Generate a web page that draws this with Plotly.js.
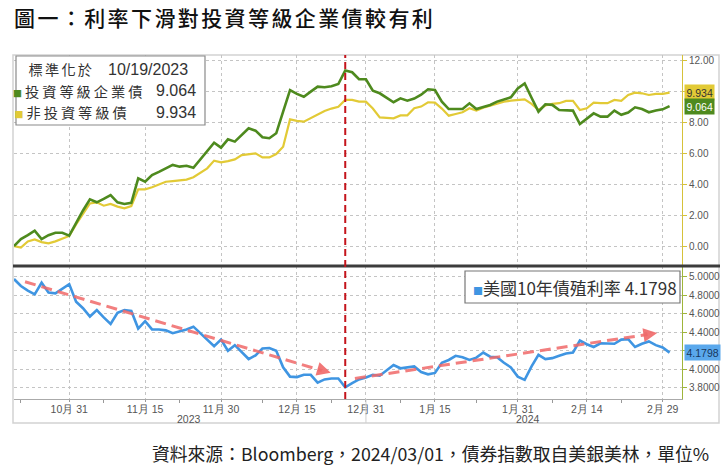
<!DOCTYPE html>
<html><head><meta charset="utf-8">
<script src="https://cdn.plot.ly/plotly-3.0.1.min.js"></script>
<style>
html,body{margin:0;padding:0;background:#fff;}
#chart{width:725px;height:467px;}
.gtitle{letter-spacing:2.4px;}
</style>
</head><body>
<div id="chart"></div>
<script>
// ---- data ----
const dates = ['2023-10-19','2023-10-20','2023-10-23','2023-10-24','2023-10-25','2023-10-26','2023-10-27','2023-10-30','2023-10-31',
'2023-11-01','2023-11-02','2023-11-03','2023-11-06','2023-11-07','2023-11-08','2023-11-09','2023-11-10','2023-11-13','2023-11-14','2023-11-15',
'2023-11-16','2023-11-17','2023-11-20','2023-11-21','2023-11-22','2023-11-23','2023-11-24','2023-11-27','2023-11-28','2023-11-29','2023-11-30',
'2023-12-01','2023-12-04','2023-12-05','2023-12-06','2023-12-07','2023-12-08','2023-12-11','2023-12-12','2023-12-13','2023-12-14','2023-12-15',
'2023-12-18','2023-12-19','2023-12-20','2023-12-21','2023-12-22','2023-12-26','2023-12-27','2023-12-28','2023-12-29',
'2024-01-01','2024-01-02','2024-01-03','2024-01-04','2024-01-05','2024-01-08','2024-01-09','2024-01-10','2024-01-11','2024-01-12','2024-01-15',
'2024-01-16','2024-01-17','2024-01-18','2024-01-19','2024-01-22','2024-01-23','2024-01-24','2024-01-25','2024-01-26','2024-01-29','2024-01-30','2024-01-31',
'2024-02-01','2024-02-02','2024-02-05','2024-02-06','2024-02-07','2024-02-08','2024-02-09','2024-02-12','2024-02-13','2024-02-14',
'2024-02-15','2024-02-16','2024-02-19','2024-02-20','2024-02-21','2024-02-22','2024-02-23','2024-02-26','2024-02-27','2024-02-28','2024-02-29','2024-03-01'];

const igCorp = [0,0.45,0.7,0.99,0.45,0.7,0.86,0.86,0.67,
 1.5,2.3,3.02,2.83,3.05,3.30,2.83,2.72,2.80,4.38,4.16,
 4.60,4.80,5.00,5.25,5.14,5.20,5.07,5.60,6.15,6.69,6.37,
 6.91,6.76,7.20,7.62,7.47,7.04,6.98,7.30,8.70,10.10,9.85,
 9.67,10.00,10.32,10.28,10.35,10.49,11.36,11.25,10.80,
 10.80,10.06,9.89,9.60,9.31,9.56,9.41,9.55,9.80,10.15,10.10,
 9.35,8.87,8.87,8.87,9.24,8.87,9.00,9.13,9.35,9.50,9.63,10.21,
 10.53,9.60,8.70,9.18,9.14,8.81,8.77,8.77,7.90,8.25,
 8.59,8.38,8.38,8.77,8.50,8.64,8.98,8.87,8.66,8.77,8.85,9.064];

const highYield = [0,-0.10,0.30,0.43,0.25,0.17,0.30,0.45,0.65,
 1.40,2.10,2.76,2.83,2.61,2.72,2.55,2.44,2.59,3.67,3.67,
 3.80,4.00,4.16,4.20,4.23,4.30,4.45,4.75,5.03,5.53,5.42,
 5.50,5.61,5.89,5.95,6.00,5.74,5.74,5.96,6.43,8.20,8.10,
 8.05,8.30,8.55,8.75,8.90,9.02,9.46,9.46,9.35,
 9.35,8.90,8.33,8.30,8.27,8.46,8.46,8.92,9.03,9.31,9.29,
 8.90,8.44,8.55,8.66,8.92,8.77,8.95,9.10,9.20,9.35,9.41,9.45,
 9.50,9.20,8.81,9.10,9.20,9.25,9.40,9.40,8.81,8.92,
 9.29,9.25,9.25,9.46,9.40,9.78,9.93,9.89,9.78,9.85,9.85,9.934];

const ust10y = [4.975,4.90,4.85,4.81,4.935,4.83,4.82,4.875,4.92,
 4.73,4.66,4.57,4.64,4.56,4.49,4.61,4.64,4.63,4.44,4.52,
 4.43,4.43,4.42,4.39,4.41,4.43,4.46,4.39,4.32,4.25,4.32,
 4.20,4.26,4.18,4.11,4.15,4.225,4.23,4.20,4.02,3.92,3.915,
 3.94,3.94,3.855,3.89,3.90,3.90,3.805,3.85,3.89,
 3.91,3.94,3.93,3.99,4.045,4.01,4.02,4.03,3.97,3.945,3.96,
 4.07,4.10,4.145,4.13,4.10,4.125,4.18,4.135,4.13,4.07,4.02,3.92,
 3.885,4.03,4.155,4.11,4.12,4.145,4.17,4.18,4.31,4.27,
 4.24,4.28,4.28,4.275,4.32,4.325,4.24,4.275,4.30,4.26,4.235,4.1798];

const tickDates = ['2023-10-31','2023-11-15','2023-11-30','2023-12-15','2024-01-01','2024-01-15','2024-01-31','2024-02-14','2024-02-29'];
const tickLabels = ['10月 31','11月 15','11月 30','12月 15','12月 31','1月 15','1月 31','2月 14','2月 29'];
const minorTickDates = ['2023-10-20','2023-11-07','2023-11-22','2023-12-08','2023-12-22','2024-01-08','2024-01-23','2024-02-07','2024-02-21'];
const topTicks = [0, 2, 4, 6, 8, 10, 12];
const bottomTicks = [3.8, 4.0, 4.2, 4.4, 4.6, 4.8, 5.0];
const yearLabels = ['2023','2024'];
const markerDate = '2023-12-27';
const seriesNames = ['投資等級企業債','非投資等級債','美國10年債殖利率'];
const normWord = '標準化於';
const normDate = '10/19/2023';

// ---- styles ----
const cGreen = '#4e8a1e', cYellow = '#e2ca36', cBlue = '#3f95e2';
const lastIG = igCorp[igCorp.length-1], lastHY = highYield[highYield.length-1], lastUS = ust10y[ust10y.length-1];
const numFont = 'Liberation Sans, Arial, sans-serif';
const cjk = 'Noto Sans CJK TC, Noto Sans, sans-serif';

// tick labels hidden where the value tags sit on top of them
const topText = topTicks.map(v => (Math.abs(v - lastIG) < 1 || Math.abs(v - lastHY) < 1) ? '' : v.toFixed(2));
const bottomText = bottomTicks.map(v => Math.abs(v - lastUS) < 0.1 ? '' : v.toFixed(4));

// plot area pixel geometry helpers
const L = 14, R = 682, T = 55, B = 399;
const px = v => (v - L) / (R - L);
const py = v => (B - v) / (B - T);
const split = py(266);

const sq = c => '<span style="color:' + c + ';font-size:9px">■</span>';
const legCjk = {family: cjk, size: 14.2, color: '#333'};
const legNum = {family: numFont, size: 16, color: '#333'};
const rowY = [69.5, 91, 112.5];

const traces = [
  {x: dates, y: highYield, xaxis: 'x2', yaxis: 'y', type: 'scatter', mode: 'lines',
   line: {color: cYellow, width: 2.2}, hoverinfo: 'skip', showlegend: false},
  {x: dates, y: igCorp, xaxis: 'x2', yaxis: 'y', type: 'scatter', mode: 'lines',
   line: {color: cGreen, width: 2.6}, hoverinfo: 'skip', showlegend: false},
  {x: dates, y: ust10y, xaxis: 'x', yaxis: 'y2', type: 'scatter', mode: 'lines',
   line: {color: cBlue, width: 2.6}, hoverinfo: 'skip', showlegend: false}
];

const xRange = [0, 96.8];
const gridStyle = {showgrid: true, gridcolor: '#c4c4c4', griddash: 'dot', gridwidth: 1};

const annotations = [
  {xref: 'x', yref: 'y2', x: 45.9, y: 3.962, ax: -0.958*14, ay: -0.285*14, text: '', showarrow: true,
   arrowhead: 2, arrowsize: 1.2, arrowwidth: 2.3, arrowcolor: 'rgba(240,105,105,0.9)'},
  {xref: 'x', yref: 'y2', x: 93.2, y: 4.391, ax: -0.989*14, ay: 0.147*14, text: '', showarrow: true,
   arrowhead: 2, arrowsize: 1.2, arrowwidth: 2.3, arrowcolor: 'rgba(240,105,105,0.9)'},
  {xref: 'paper', yref: 'paper', x: px(198), y: py(rowY[1]), xanchor: 'right', yanchor: 'middle', showarrow: false,
   text: lastIG.toFixed(3), font: legNum},
  {xref: 'paper', yref: 'paper', x: px(198), y: py(rowY[2]), xanchor: 'right', yanchor: 'middle', showarrow: false,
   text: lastHY.toFixed(3), font: legNum},
  {xref: 'paper', yref: 'paper', x: px(190), y: py(rowY[0]), xanchor: 'right', yanchor: 'middle', showarrow: false,
   text: normDate, font: legNum},
  {xref: 'paper', yref: 'paper', x: px(471), y: py(287), xanchor: 'left', yanchor: 'middle', showarrow: false,
   text: '<span style="color:' + cBlue + ';font-size:10px">■</span>' + seriesNames[2] + ' ' + lastUS.toFixed(4),
   font: {family: cjk, size: 17, color: '#333'}},
  {xref: 'paper', yref: 'y', x: px(684), y: lastHY, xanchor: 'left', yanchor: 'middle', showarrow: false,
   text: lastHY.toFixed(3), bgcolor: cYellow, borderpad: 1.5, font: {family: numFont, size: 10.5, color: '#333'}},
  {xref: 'paper', yref: 'y', x: px(684), y: lastIG, xanchor: 'left', yanchor: 'middle', showarrow: false,
   text: lastIG.toFixed(3), bgcolor: cGreen, borderpad: 1.5, font: {family: numFont, size: 10.5, color: '#fff'}},
  {xref: 'paper', yref: 'y2', x: px(684), y: lastUS, xanchor: 'left', yanchor: 'middle', showarrow: false,
   text: lastUS.toFixed(4), bgcolor: '#5aa8ec', borderpad: 1.5, font: {family: numFont, size: 10.5, color: '#17375e'}},
  {xref: 'paper', yref: 'paper', x: px(189), y: py(419), xanchor: 'center', yanchor: 'middle', showarrow: false,
   text: yearLabels[0], font: {family: numFont, size: 10.5, color: '#555'}},
  {xref: 'paper', yref: 'paper', x: px(528), y: py(419), xanchor: 'center', yanchor: 'middle', showarrow: false,
   text: yearLabels[1], font: {family: numFont, size: 10.5, color: '#555'}},
  {xref: 'paper', yref: 'paper', x: px(711), y: py(453), xanchor: 'right', yanchor: 'middle', showarrow: false,
   text: '資料來源：Bloomberg，2024/03/01，債券指數取自美銀美林，單位%', font: {family: cjk, size: 17.8, color: '#222'}}
];
// legend CJK rows (spaced letters), indices recorded for the CSS below
const spaced = [];
spaced.push([annotations.length, 2.2]);
annotations.push({xref: 'paper', yref: 'paper', x: px(31), y: py(rowY[0]), xanchor: 'left', yanchor: 'middle',
  showarrow: false, text: normWord, font: legCjk});
spaced.push([annotations.length, 3.0]);
annotations.push({xref: 'paper', yref: 'paper', x: px(23), y: py(rowY[1]), xanchor: 'left', yanchor: 'middle',
  showarrow: false, text: sq(cGreen) + seriesNames[0], font: legCjk});
spaced.push([annotations.length, 3.0]);
annotations.push({xref: 'paper', yref: 'paper', x: px(23), y: py(rowY[2]), xanchor: 'left', yanchor: 'middle',
  showarrow: false, text: sq(cYellow) + seriesNames[1], font: legCjk});

const css = document.createElement('style');
css.textContent = spaced.map(([i, s]) => '.annotation[data-index="' + i + '"] text{letter-spacing:' + s + 'px;}').join('\n');
document.head.appendChild(css);

const layout = {
  width: 725, height: 467,
  margin: {l: L, r: 725 - R, t: T, b: 467 - B},
  paper_bgcolor: '#fff', plot_bgcolor: '#fff',
  font: {family: cjk, color: '#333'},
  title: {text: '圖一：利率下滑對投資等級企業債較有利', xref: 'container', x: 14/725, xanchor: 'left',
          yref: 'container', y: 1 - 19/467, yanchor: 'middle',
          font: {family: cjk, size: 21, color: '#111', weight: 500}},
  xaxis: Object.assign({type: 'category', anchor: 'y2', range: xRange, tickmode: 'array',
          tickvals: tickDates, ticktext: tickLabels, ticks: 'outside', ticklen: 2, tickcolor: '#999',
          ticklabelstandoff: -2,
          showline: true, linecolor: '#aaa', linewidth: 1, zeroline: false,
          tickfont: {family: numFont, size: 10.5, color: '#555'},
          minor: {tickvals: minorTickDates, ticks: 'outside', ticklen: 3, tickcolor: '#999', showgrid: false}}, gridStyle),
  xaxis2: Object.assign({type: 'category', anchor: 'y', matches: 'x', range: xRange, tickmode: 'array',
          tickvals: tickDates, ticktext: tickLabels, showticklabels: false, ticks: '', zeroline: false}, gridStyle),
  yaxis: Object.assign({domain: [split, 1], side: 'right', anchor: 'x2', range: [-1.295, 12.37],
          tickmode: 'array', tickvals: topTicks, ticktext: topText, ticks: 'outside', ticklen: 4,
          tickcolor: '#d6c23a', showline: true, linecolor: '#d6c23a', linewidth: 1, zeroline: false,
          tickfont: {family: numFont, size: 10, color: '#555'}}, gridStyle),
  yaxis2: Object.assign({domain: [0, split], side: 'right', anchor: 'x', range: [3.678, 5.116],
          tickmode: 'array', tickvals: bottomTicks, ticktext: bottomText, ticks: 'outside', ticklen: 4,
          tickcolor: '#9fb53a', showline: true, linecolor: '#9fb53a', linewidth: 1, zeroline: false,
          tickfont: {family: numFont, size: 10, color: '#555'}}, gridStyle),
  shapes: [
    {type: 'rect', xref: 'paper', yref: 'paper', x0: px(13), x1: px(719), y0: py(423), y1: py(55),
     line: {color: '#d2d2d2', width: 1.5}, fillcolor: 'rgba(0,0,0,0)', layer: 'below'},
    {type: 'line', xref: 'paper', yref: 'paper', x0: px(13), x1: px(720), y0: split, y1: split,
     line: {color: '#3c3c3c', width: 3}},
    {type: 'line', xref: 'x', yref: 'paper', x0: tickDates[4], x1: tickDates[4], y0: 0, y1: py(423),
     line: {color: '#cfcfcf', width: 1}},
    {type: 'line', xref: 'x', yref: 'paper', x0: markerDate, x1: markerDate, y0: 0, y1: 1,
     line: {color: '#c4141c', width: 2, dash: '7px,4px'}},
    {type: 'line', xref: 'x', yref: 'y2', x0: 1.6, y0: 4.946, x1: 44.6, y1: 3.985,
     line: {color: 'rgba(240,105,105,0.85)', width: 3, dash: '11px,6px'}},
    {type: 'line', xref: 'x', yref: 'y2', x0: 49.4, y0: 3.90, x1: 91.8, y1: 4.375,
     line: {color: 'rgba(240,105,105,0.85)', width: 3, dash: '11px,6px'}},
    {type: 'rect', xref: 'paper', yref: 'paper', x0: px(16), x1: px(205), y0: py(125), y1: py(56),
     line: {color: '#8a8a8a', width: 1.2}, fillcolor: '#fff'},
    {type: 'rect', xref: 'paper', yref: 'paper', x0: px(465), x1: px(680), y0: py(303), y1: py(271),
     line: {color: '#777', width: 1.2}, fillcolor: '#fff'}
  ],
  annotations: annotations
};

Plotly.newPlot('chart', traces, layout, {staticPlot: true, displayModeBar: false});
</script>
</body></html>
